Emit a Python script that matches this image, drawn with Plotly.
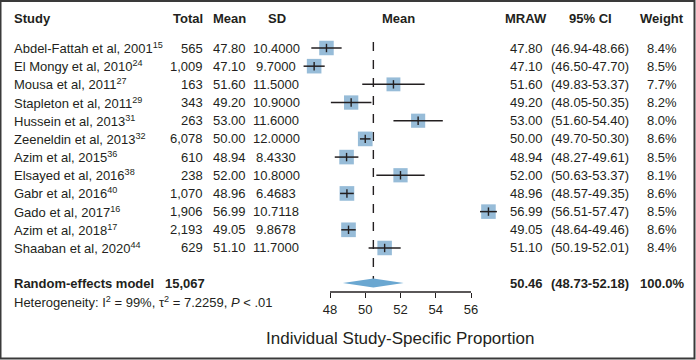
import plotly.graph_objects as go

# ---- data ----
studies = ["Abdel-Fattah et al, 2001", "El Mongy et al, 2010", "Mousa et al, 2011",
           "Stapleton et al, 2011", "Hussein et al, 2013", "Zeeneldin et al, 2013",
           "Azim et al, 2015", "Elsayed et al, 2016", "Gabr et al, 2016",
           "Gado et al, 2017", "Azim et al, 2018", "Shaaban et al, 2020"]
refs = [15, 24, 27, 29, 31, 32, 36, 38, 40, 16, 17, 44]
totals = [565, 1009, 163, 343, 263, 6078, 610, 238, 1070, 1906, 2193, 629]
means = [47.80, 47.10, 51.60, 49.20, 53.00, 50.00, 48.94, 52.00, 48.96, 56.99, 49.05, 51.10]
sds = [10.4000, 9.7000, 11.5000, 10.9000, 11.6000, 12.0000, 8.4330, 10.8000,
       6.4683, 10.7118, 9.8678, 11.7000]
ci_lo = [46.94, 46.50, 49.83, 48.05, 51.60, 49.70, 48.27, 50.63, 48.57, 56.51, 48.64, 50.19]
ci_hi = [48.66, 47.70, 53.37, 50.35, 54.40, 50.30, 49.61, 53.37, 49.35, 57.47, 49.46, 52.01]
weights = [8.4, 8.5, 7.7, 8.2, 8.0, 8.6, 8.5, 8.1, 8.6, 8.5, 8.6, 8.4]
pooled_total = 15067
pooled_mean = 50.46
pooled_lo = 48.73
pooled_hi = 52.18
pooled_weight = 100.0
i2 = 99
tau2 = 7.2259
tick_vals = [48, 50, 52, 54, 56]

# ---- layout geometry ----
W, H = 696, 360
ROW0_PX, ROW_PX = 48, 18.18
def row_of(px):
    return (px - ROW0_PX) / ROW_PX

rows = list(range(len(studies)))
header_row = row_of(18)
pooled_row = row_of(283)
het_row = row_of(302)
title_row = row_of(338)

PX_PER_UNIT = 17.625
X48_PX = 330
def val_of(px):
    return 48 + (px - X48_PX) / PX_PER_UNIT

DOM_L, DOM_R = 290, 510
AXIS_Y_PX = 292

TXT = "#231f20"
FONT = "Liberation Sans, Arial, sans-serif"
SQ_COLOR = "#6b9fc7"
DIA_COLOR = "#6aa7d1"

fig = go.Figure()

# squares
fig.add_trace(go.Scatter(
    x=means, y=rows, mode="markers",
    marker=dict(symbol="square", size=[5.0 * (w ** 0.5) for w in weights],
                color=SQ_COLOR, line=dict(width=0)),
    hoverinfo="skip", showlegend=False))

# CI lines + mean ticks
fig.add_trace(go.Scatter(
    x=means, y=rows, mode="markers",
    marker=dict(symbol="line-ns", size=6, color=TXT, line=dict(width=1.4, color=TXT)),
    error_x=dict(type="data", symmetric=False,
                 array=[h - m for h, m in zip(ci_hi, means)],
                 arrayminus=[m - l for m, l in zip(means, ci_lo)],
                 width=0, thickness=1.5, color=TXT),
    hoverinfo="skip", showlegend=False))

# diamond
dh = 4.5 / ROW_PX
fig.add_trace(go.Scatter(
    x=[pooled_lo, pooled_mean, pooled_hi, pooled_mean, pooled_lo],
    y=[pooled_row, pooled_row - dh, pooled_row, pooled_row + dh, pooled_row],
    mode="lines", fill="toself", fillcolor=DIA_COLOR,
    line=dict(width=0, color=DIA_COLOR), hoverinfo="skip", showlegend=False))

shapes = [
    dict(type="line", xref="x", yref="y", x0=pooled_mean, x1=pooled_mean,
         y0=row_of(42), y1=pooled_row, line=dict(color=TXT, width=1.4, dash="dash"), layer="below"),
    dict(type="line", xref="x", yref="paper", x0=tick_vals[0], x1=tick_vals[-1],
         y0=(H - AXIS_Y_PX) / H, y1=(H - AXIS_Y_PX) / H, line=dict(color=TXT, width=1.4)),
    dict(type="rect", xref="paper", yref="paper", x0=0.5 / W, x1=1 - 1.5 / W,
         y0=1.5 / H, y1=1 - 1 / H, line=dict(color="#3a3a3a", width=2)),
]

annotations = []
def ann(text, px, row, anchor, bold=False, size=13):
    if bold:
        text = "<b>" + text + "</b>"
    annotations.append(dict(text=text, x=px / W, xref="paper", y=row, yref="y",
                            xanchor=anchor, yanchor="middle", showarrow=False,
                            font=dict(family=FONT, size=size, color=TXT)))

# headers
ann("Study", 12, header_row, "left", True)
ann("Total", 205, header_row, "right", True)
ann("Mean", 211, header_row, "left", True)
ann("SD", 277, header_row, "center", True)
ann("Mean", 398, header_row, "center", True)
ann("MRAW", 526, header_row, "center", True)
ann("95% CI", 590, header_row, "center", True)
ann("Weight", 662, header_row, "center", True)

for i in rows:
    ann(f"{studies[i]}<sup>{refs[i]}</sup>", 12, i, "left")
    ann(f"{totals[i]:,}", 205, i, "right")
    ann(f"{means[i]:.2f}", 211, i, "left")
    ann(f"{sds[i]:.4f}", 276, i, "center")
    ann(f"{means[i]:.2f}", 526, i, "center")
    ann(f"({ci_lo[i]:.2f}-{ci_hi[i]:.2f})", 590, i, "center")
    ann(f"{weights[i]:.1f}%", 662, i, "center")

ann("Random-effects model", 12, pooled_row, "left", True)
ann(f"{pooled_total:,}", 207, pooled_row, "right", True)
ann(f"{pooled_mean:.2f}", 526, pooled_row, "center", True)
ann(f"({pooled_lo:.2f}-{pooled_hi:.2f})", 590, pooled_row, "center", True)
ann(f"{pooled_weight:.1f}%", 662, pooled_row, "center", True)
ann(f"Heterogeneity: I<sup>2</sup> = {i2}%, τ<sup>2</sup> = {tau2:.4f}, <i>P</i> < .01",
    12, het_row, "left")
ann("Individual Study-Specific Proportion", 400, title_row, "center", size=17)

fig.update_layout(
    width=W, height=H, margin=dict(l=0, r=0, t=0, b=0, pad=0),
    paper_bgcolor="white", plot_bgcolor="rgba(0,0,0,0)",
    showlegend=False, shapes=shapes, annotations=annotations,
    xaxis=dict(domain=[DOM_L / W, DOM_R / W], range=[val_of(DOM_L), val_of(DOM_R)],
               anchor="free", position=(H - AXIS_Y_PX) / H,
               tickvals=tick_vals, ticktext=[str(v) for v in tick_vals],
               ticks="outside", ticklen=5, tickwidth=1.4, tickcolor=TXT,
               showline=False, showgrid=False, zeroline=False, automargin=False,
               tickfont=dict(family=FONT, size=13, color=TXT), fixedrange=True),
    yaxis=dict(domain=[0, 1], range=[row_of(H), row_of(0)], visible=False,
               showgrid=False, zeroline=False, automargin=False, fixedrange=True),
)

fig.write_html(
    "out.html",
    config={"displayModeBar": False},
    post_script="document.body.style.margin='0';document.body.style.overflow='hidden';",
)
